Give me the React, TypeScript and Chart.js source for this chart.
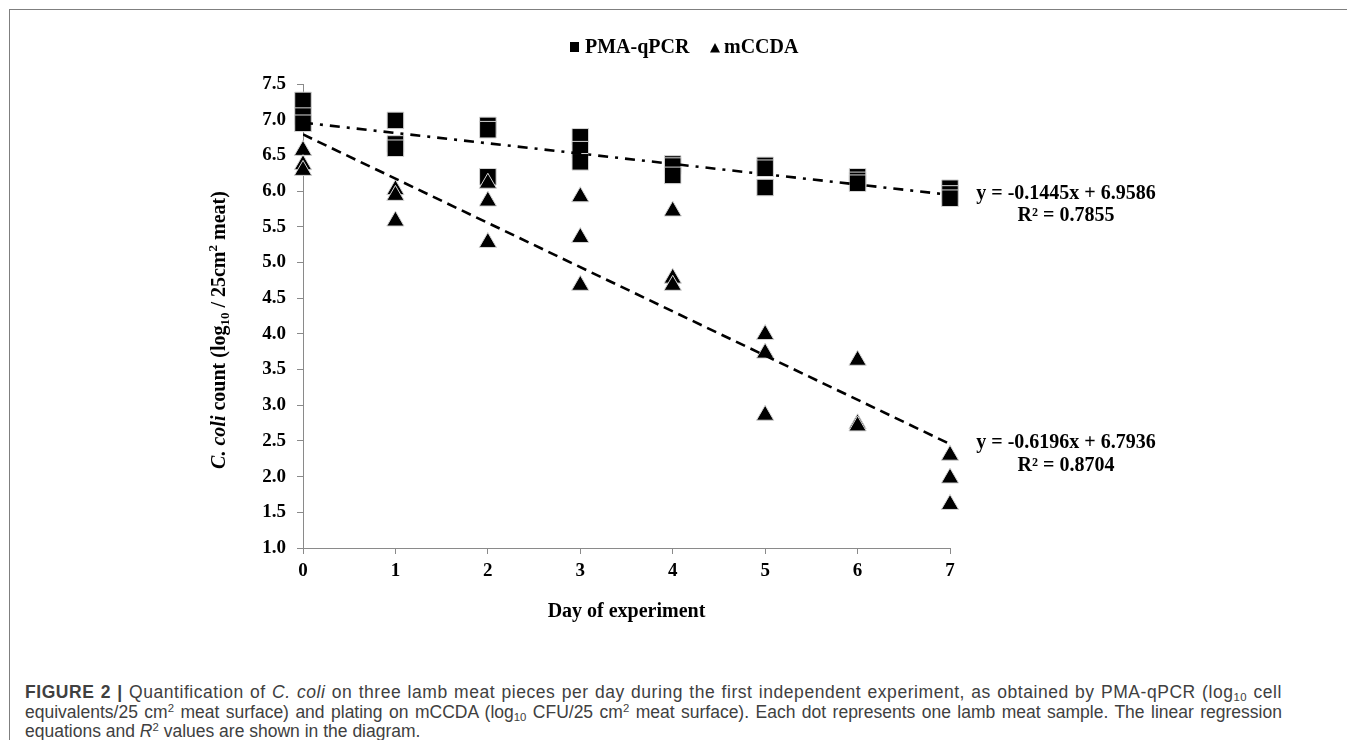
import React, { useEffect, useRef, useState } from "react";
import { Chart, registerables } from "chart.js";

Chart.register(...registerables);

// ---- data ----
const days = [0, 1, 2, 3, 4, 5, 6, 7];

// PMA-qPCR, three lamb meat pieces per day (log10 / 25 cm2 meat)
const pmaSample1 = [7.27, 6.99, 6.92, 6.76, 6.38, 6.36, 6.2, 6.04];
const pmaSample2 = [7.05, 6.66, 6.86, 6.58, 6.35, 6.32, 6.15, 5.96];
const pmaSample3 = [6.95, 6.6, 6.2, 6.41, 6.22, 6.05, 6.11, 5.9];

// mCCDA plating, three lamb meat pieces per day
const mccdaSample1 = [6.57, 6.02, 6.11, 5.92, 5.72, 3.99, 3.63, 2.3];
const mccdaSample2 = [6.37, 5.94, 5.86, 5.35, 4.78, 3.73, 2.74, 1.98];
const mccdaSample3 = [6.29, 5.58, 5.28, 4.68, 4.68, 2.86, 2.71, 1.61];

// regression coefficients as printed in the figure
const pmaSlope = -0.1445;
const pmaIntercept = 6.9586;
const mccdaSlope = -0.6196;
const mccdaIntercept = 6.7936;

const pmaEquation = "y = -0.1445x + 6.9586";
const pmaR2 = "R\u00B2 = 0.7855";
const mccdaEquation = "y = -0.6196x + 6.7936";
const mccdaR2 = "R\u00B2 = 0.8704";

const seriesNames = ["PMA-qPCR", "mCCDA"];
const xAxisTitle = "Day of experiment";

const yMin = 1.0;
const yMax = 7.5;
const yStep = 0.5;
const xMin = 0;
const xMax = 7;

// ---- helpers ----
function toPoints(samples: number[][]) {
  const out: { x: number; y: number }[] = [];
  samples.forEach((arr) => arr.forEach((v, i) => out.push({ x: days[i], y: v })));
  return out;
}

function trendPoints(m: number, b: number) {
  const first = days[0];
  const last = days[days.length - 1];
  return [
    { x: first, y: m * first + b },
    { x: last, y: m * last + b },
  ];
}

const SERIF = '"Liberation Serif", "Times New Roman", serif';
const AXIS_GRAY = "#8a8a8a";

const textPlugin = {
  id: "figureText",
  afterDraw(chart: any) {
    const ctx = chart.ctx;
    const xs = chart.scales.x;
    const ys = chart.scales.y;
    ctx.save();
    ctx.fillStyle = "#000";
    ctx.textBaseline = "alphabetic";

    // legend
    ctx.font = "bold 20px " + SERIF;
    ctx.textAlign = "left";
    ctx.fillRect(560, 32, 9, 10);
    ctx.fillText(seriesNames[0], 575, 42.5);
    ctx.beginPath();
    ctx.moveTo(700, 42.5);
    ctx.lineTo(710, 42.5);
    ctx.lineTo(705, 33);
    ctx.closePath();
    ctx.fill();
    ctx.fillText(seriesNames[1], 714, 42.5);

    // x axis title
    ctx.textAlign = "center";
    ctx.fillText(xAxisTitle, (xs.left + xs.right) / 2, 607);

    // regression labels
    const lastDay = days[days.length - 1];
    const labelX = xs.getPixelForValue(lastDay) + 116;
    const pmaEndY = ys.getPixelForValue(pmaSlope * lastDay + pmaIntercept) + 3.8;
    const mccdaEndY = ys.getPixelForValue(mccdaSlope * lastDay + mccdaIntercept) + 4.2;
    ctx.fillText(pmaEquation, labelX, pmaEndY);
    ctx.fillText(pmaR2, labelX, pmaEndY + 22.5);
    ctx.fillText(mccdaEquation, labelX, mccdaEndY);
    ctx.fillText(mccdaR2, labelX, mccdaEndY + 22.5);

    // y axis title (rich text, rotated)
    const segs = [
      { t: "C. coli", font: "italic bold 20px " + SERIF, dy: 0 },
      { t: " count (log", font: "bold 20px " + SERIF, dy: 0 },
      { t: "10", font: "bold 13px " + SERIF, dy: 4 },
      { t: " / 25cm", font: "bold 20px " + SERIF, dy: 0 },
      { t: "2", font: "bold 13px " + SERIF, dy: -8 },
      { t: " meat)", font: "bold 20px " + SERIF, dy: 0 },
    ];
    let total = 0;
    const widths = segs.map((s) => {
      ctx.font = s.font;
      const w = ctx.measureText(s.t).width;
      total += w;
      return w;
    });
    const centerY = (ys.top + ys.bottom) / 2 + 14;
    ctx.translate(214.5, centerY);
    ctx.rotate(-Math.PI / 2);
    ctx.textAlign = "left";
    let cx = -total / 2;
    segs.forEach((s, i) => {
      ctx.font = s.font;
      ctx.fillText(s.t, cx, s.dy);
      cx += widths[i];
    });
    ctx.restore();
  },
};

function FigureChart() {
  const ref = useRef<HTMLCanvasElement | null>(null);
  const [err, setErr] = useState("");
  useEffect(() => {
    if (!ref.current) return;
    let chart: any = null;
    try {
      const tickFont = { family: SERIF, size: 19, weight: "bold" };
      const config: any = {
        type: "scatter",
        data: {
          datasets: [
            {
              type: "line",
              label: "PMA-qPCR trend",
              data: trendPoints(pmaSlope, pmaIntercept),
              borderColor: "#000",
              borderWidth: 2.6,
              borderDash: [10, 7, 3, 7],
              pointRadius: 0,
              fill: false,
              order: 0,
            },
            {
              type: "line",
              label: "mCCDA trend",
              data: trendPoints(mccdaSlope, mccdaIntercept),
              borderColor: "#000",
              borderWidth: 2.6,
              borderDash: [10, 6],
              pointRadius: 0,
              fill: false,
              order: 0,
            },
            {
              label: seriesNames[1],
              data: toPoints([mccdaSample1, mccdaSample2, mccdaSample3]),
              pointStyle: "triangle",
              pointRadius: 10,
              backgroundColor: "#000",
              borderColor: "#d6d6d6",
              borderWidth: 1,
              order: 1,
              clip: false,
            },
            {
              label: seriesNames[0],
              data: toPoints([pmaSample1, pmaSample2, pmaSample3]),
              pointStyle: "rect",
              pointRadius: 11.7,
              backgroundColor: "#000",
              borderColor: "#d6d6d6",
              borderWidth: 1,
              order: 2,
              clip: false,
            },
          ],
        },
        options: {
          animation: false,
          responsive: false,
          devicePixelRatio: 1,
          layout: { padding: { left: 0, top: 74, right: 400, bottom: 62 } },
          plugins: { legend: { display: false }, tooltip: { enabled: false } },
          scales: {
            x: {
              type: "linear",
              min: xMin,
              max: xMax,
              ticks: { stepSize: 1, font: tickFont, color: "#000", padding: 6 },
              grid: { drawOnChartArea: false, tickLength: 6, color: AXIS_GRAY },
              border: { color: AXIS_GRAY, width: 1 },
              afterFit: function (s: any) {
                s.height = 40;
              },
            },
            y: {
              type: "linear",
              min: yMin,
              max: yMax,
              ticks: {
                stepSize: yStep,
                font: tickFont,
                color: "#000",
                padding: 11,
                callback: function (v: any) {
                  return Number(v).toFixed(1);
                },
              },
              grid: { drawOnChartArea: false, tickLength: 6, color: AXIS_GRAY },
              border: { color: AXIS_GRAY, width: 1 },
              afterFit: function (s: any) {
                s.width = 293;
              },
            },
          },
        },
        plugins: [textPlugin],
      };
      chart = new Chart(ref.current, config);
    } catch (e: any) {
      setErr(String(e && e.stack ? e.stack : e));
    }
    return () => {
      if (chart) chart.destroy();
    };
  }, []);
  return (
    <>
      <canvas
        ref={ref}
        width={1340}
        height={640}
        style={{ position: "absolute", left: 2, top: 2, width: 1340, height: 640, display: "block" }}
      />
      {err ? (
        <pre style={{ position: "absolute", left: 20, top: 20, color: "red", fontSize: 12 }}>{err}</pre>
      ) : null}
    </>
  );
}

const capFont = '"Liberation Sans", Arial, Helvetica, sans-serif';
const supStyle = { fontSize: "65%", lineHeight: 0, verticalAlign: "0.55em" };
const subStyle = { fontSize: "65%", lineHeight: 0, verticalAlign: "-0.25em" };
const justLine1: any = { textAlign: "justify", textAlignLast: "justify", width: 1257, letterSpacing: "0.55px" };
const justLine2: any = { textAlign: "justify", textAlignLast: "justify", width: 1257 };

export default function App() {
  return (
    <div style={{ position: "relative", width: 1339, height: 732, background: "#fff" }}>
      <div
        style={{
          position: "absolute",
          left: 1,
          top: 1,
          width: 1344,
          height: 738,
          boxSizing: "border-box",
          borderLeft: "1px solid #7f7f7f",
          borderTop: "1px solid #7f7f7f",
          borderRight: "1px solid #7f7f7f",
        }}
      />
      <FigureChart />
      <div
        style={{
          position: "absolute",
          left: 17,
          top: 675.2,
          fontFamily: capFont,
          fontSize: 17.5,
          lineHeight: "19.5px",
          color: "#404040",
          whiteSpace: "nowrap",
        }}
      >
        <div style={justLine1}>
          <b>FIGURE 2 |</b> Quantification of <i>C. coli</i> on three lamb meat pieces per day during the first
          independent experiment, as obtained by PMA-qPCR (log<span style={subStyle}>10</span> cell
        </div>
        <div style={justLine2}>
          equivalents/25 cm<span style={supStyle}>2</span> meat surface) and plating on mCCDA (log
          <span style={subStyle}>10</span> CFU/25 cm<span style={supStyle}>2</span> meat surface). Each dot represents
          one lamb meat sample. The linear regression
        </div>
        <div>
          equations and <i>R</i>
          <span style={supStyle}>2</span> values are shown in the diagram.
        </div>
      </div>
    </div>
  );
}
